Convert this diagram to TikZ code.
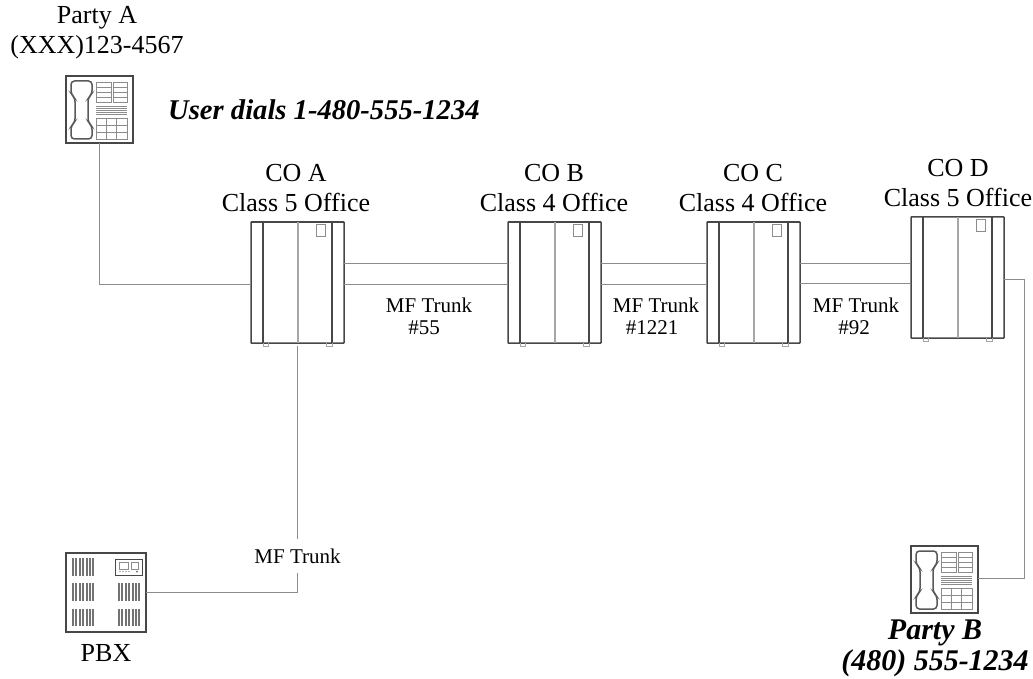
\documentclass[tikz,border=0pt]{standalone}
\usepackage{fontspec}
\setmainfont{Liberation Serif}
\definecolor{boxline}{gray}{0.28}
\definecolor{wire}{gray}{0.55}
\definecolor{fineline}{gray}{0.55}
\tikzset{
  wireline/.style={draw=wire,line width=1pt},
  cobox/.style={draw=boxline,line width=1.5pt,rectangle,minimum width=93pt,minimum height=121pt,inner sep=0pt,outer sep=0pt,anchor=north west,rounded corners=0.5pt},
  phonebox/.style={draw=boxline,line width=1.5pt,rectangle,minimum width=67pt,minimum height=67pt,inner sep=0pt,outer sep=0pt,anchor=north west},
  pbxbox/.style={draw=boxline,line width=1.3pt,rectangle,minimum width=80pt,minimum height=79pt,inner sep=0pt,outer sep=0pt,anchor=north west},
  bigtext/.style={font=\fontsize{26}{30}\selectfont,align=center,inner sep=0pt},
  trunktext/.style={font=\fontsize{21}{22}\selectfont,align=center,inner sep=0pt},
  boldtext/.style={font=\fontsize{30}{31}\selectfont\bfseries\itshape,align=center,inner sep=0pt},
  fine/.style={draw=fineline,line width=0.9pt},
  bar/.style={draw=black!55,line width=2pt},
}
\newcommand{\coffice}[3]{%
  \node[cobox] (#1) at (#2,#3) {};
  \begin{scope}[shift={(#2,#3)}]
    \draw[boxline,line width=1.5pt] (12,0) -- (12,121) (81,0) -- (81,121);
    \draw[black!35,line width=1.2pt] (47,0) -- (47,121);
    \draw[black!45,line width=0.8pt] (65,2) rectangle (74,14);
    \draw[black!35,line width=0.8pt] (12,121) -- (12,124) -- (17,124) -- (17,121);
    \draw[black!35,line width=0.8pt] (75,121) -- (75,124) -- (81,124) -- (81,121);
  \end{scope}}
\newcommand{\phone}[3]{%
  \node[phonebox] (#1) at (#2,#3) {};
  \begin{scope}[shift={(#2,#3)}]
    \draw[black!65,line width=1.5pt,rounded corners=3.5pt]
      (15,5) -- (26,5) -- (26,18) -- (22,22) -- (22,46) -- (26,50) -- (26,63)
      -- (5,63) -- (5,50) -- (9,46) -- (9,22) -- (5,18) -- (5,5) -- cycle;
    \draw[fine] (30,6) rectangle (45,26) (47,6) rectangle (61,26);
    \foreach \yy in {11,16,21} {\draw[fine] (30,\yy) -- (45,\yy) (47,\yy) -- (61,\yy);}
    \foreach \yy in {30.5,32.5,34.5,36.5,38.5} {\draw[fine,line width=0.8pt] (30,\yy) -- (61,\yy);}
    \draw[fine] (30,42) rectangle (61,63);
    \draw[fine] (40.5,42) -- (40.5,63) (50.5,42) -- (50.5,63) (30,49) -- (61,49) (30,56) -- (61,56);
  \end{scope}}
\newcommand{\pbxbars}[2]{%
  \foreach \xx in {1,4.4,7.8,11.2,14.6,18,21} {\draw[bar] (#1+\xx,#2) -- (#1+\xx,#2+17.5);}}
\begin{document}
\begin{tikzpicture}[x=1pt,y=-1pt]
\useasboundingbox (0,0) rectangle (1033,679);
% devices
\phone{phonea}{66}{76}
\phone{phoneb}{911}{546}
\coffice{coa}{251}{222}
\coffice{cob}{508}{222}
\coffice{coc}{707}{222}
\coffice{cod}{911}{217}
\node[pbxbox] (pbx) at (66,553) {};
\pbxbars{72}{558}
\pbxbars{72}{583}
\pbxbars{72}{608.5}
\pbxbars{118}{583}
\pbxbars{118}{608.5}
\node[draw=boxline,line width=1pt,minimum width=27pt,minimum height=16pt,inner sep=0pt,outer sep=0pt,anchor=north west] (pbxpanel) at (115,559) {};
\draw[fine,line width=0.8pt] (119,562) rectangle (128,569) (131,562) rectangle (138,569);
\foreach \xx in {120,123,126,129} {\fill[black!60] (\xx,571.5) circle (0.7);}
\fill[black!60] (137,571.5) circle (1);
% texts
\node[bigtext] (partya) at (97,33) {Party A\\(XXX)123-4567};
\node[font=\fontsize{28.6}{30}\selectfont\bfseries\itshape,inner sep=0pt,anchor=west] (dial) at (168,110) {User dials 1-480-555-1234};
\node[bigtext] (la) at (296,188) {CO A\\Class 5 Office};
\node[bigtext] (lb) at (554,188) {CO B\\Class 4 Office};
\node[bigtext] (lc) at (753,188) {CO C\\Class 4 Office};
\node[bigtext] (ld) at (958,183) {CO D\\Class 5 Office};
\node[trunktext] (t1) at (429,316) {MF Trunk\\\#55\hspace*{10pt}};
\node[trunktext] (t2) at (656,316) {MF Trunk\\\#1221\hspace*{8pt}};
\node[trunktext] (t3) at (856,316) {MF Trunk\\\#92\hspace*{4pt}};
\node[trunktext,minimum height=34pt] (t4) at (297.5,556) {MF Trunk};
\node[bigtext] (lpbx) at (106,653) {PBX};
\node[boldtext] (partyb) at (935,648) {Party B\\(480) 555-1234};
% connectors
\draw[wireline] (phonea.south) |- ([yshift=-1.5pt]coa.west);
\draw[wireline] ([yshift=19.5pt]coa.east) -- ([yshift=19.5pt]cob.west);
\draw[wireline] ([yshift=-1.5pt]coa.east) -- ([yshift=-1.5pt]cob.west);
\draw[wireline] ([yshift=19.5pt]cob.east) -- ([yshift=19.5pt]coc.west);
\draw[wireline] ([yshift=-1.5pt]cob.east) -- ([yshift=-1.5pt]coc.west);
\draw[wireline] ([yshift=19.5pt]coc.east) -- ([yshift=14.5pt]cod.west);
\draw[wireline] ([yshift=-0.5pt]coc.east) -- ([yshift=-5.5pt]cod.west);
\draw[wireline] ([yshift=-3pt]coa.south) -- (t4.north);
\draw[wireline] (t4.south) |- (pbx.east);
\coordinate (dturn) at (1024,279);
\draw[wireline] ([yshift=-1.5pt]cod.east) -- (dturn) |- ([yshift=1.5pt]phoneb.east);
\end{tikzpicture}
\end{document}
